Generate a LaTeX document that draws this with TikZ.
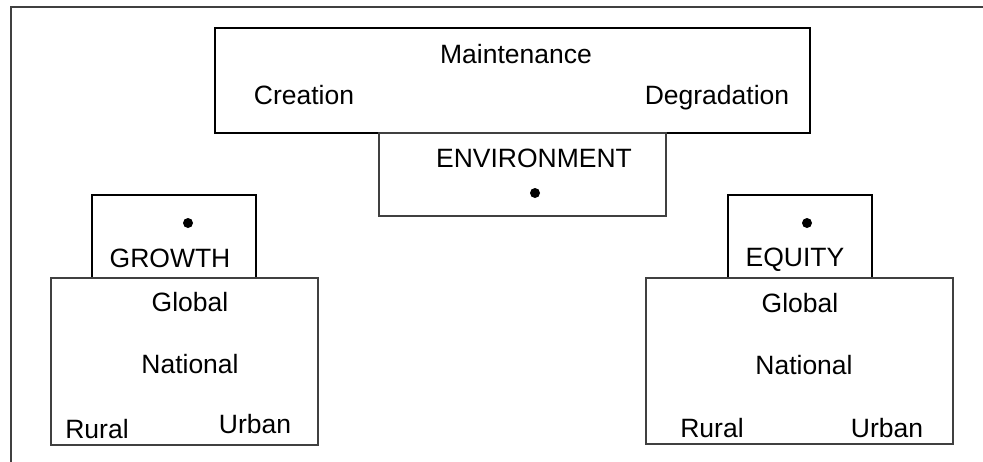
\documentclass[tikz,border=0pt]{standalone}
\usepackage{fontspec}
\setmainfont{Liberation Sans}
\begin{document}
\begin{tikzpicture}[x=1pt,y=-1pt,
  lbl/.style={anchor=base,inner sep=0pt,font=\fontsize{26.5}{28}\selectfont},
  boxA/.style={draw=black,line width=2pt,inner sep=0pt},
  boxB/.style={draw=black!75,line width=1.5pt,inner sep=0pt},
  boxC/.style={draw=black,line width=1.8pt,inner sep=0pt},
  dotm/.style={circle,fill=black,inner sep=0pt,minimum size=10pt}]
\useasboundingbox (0,0) rectangle (983,461);
\begin{scope}
\clip (0,0) rectangle (983,461);
\draw[black!75,line width=2pt] (11,7) rectangle (1000,480);
\end{scope}
% top box
\path[boxA] (215,28) rectangle (810,133);
\node[lbl] (maint) at (516,63) {Maintenance};
\node[lbl] (creat) at (304,104) {Creation};
\node[lbl] (degr) at (717,104) {Degradation};
% environment box
\path[boxB] (379,133) rectangle (666,216);
\node[lbl] (env) at (534,167) {ENVIRONMENT};
\node[dotm] (envdot) at (535,193) {};
% growth
\path[boxC] (92,195) rectangle (256,278);
\node[dotm] (gdot) at (188,223) {};
\node[lbl] (growth) at (170,267) {GROWTH};
\path[boxB] (51,278) rectangle (318,445);
\node[lbl] (glob1) at (190,311) {Global};
\node[lbl] (nat1) at (190,373) {National};
\node[lbl] (rur1) at (97,438) {Rural};
\node[lbl] (urb1) at (255,433) {Urban};
% equity
\path[boxC] (728,195) rectangle (872,278);
\node[dotm] (edot) at (807,223) {};
\node[lbl] (equity) at (795,266) {EQUITY};
\path[boxB] (646,278) rectangle (953,444);
\node[lbl] (glob2) at (800,312) {Global};
\node[lbl] (nat2) at (804,374) {National};
\node[lbl] (rur2) at (712,437) {Rural};
\node[lbl] (urb2) at (887,437) {Urban};
\end{tikzpicture}
\end{document}
